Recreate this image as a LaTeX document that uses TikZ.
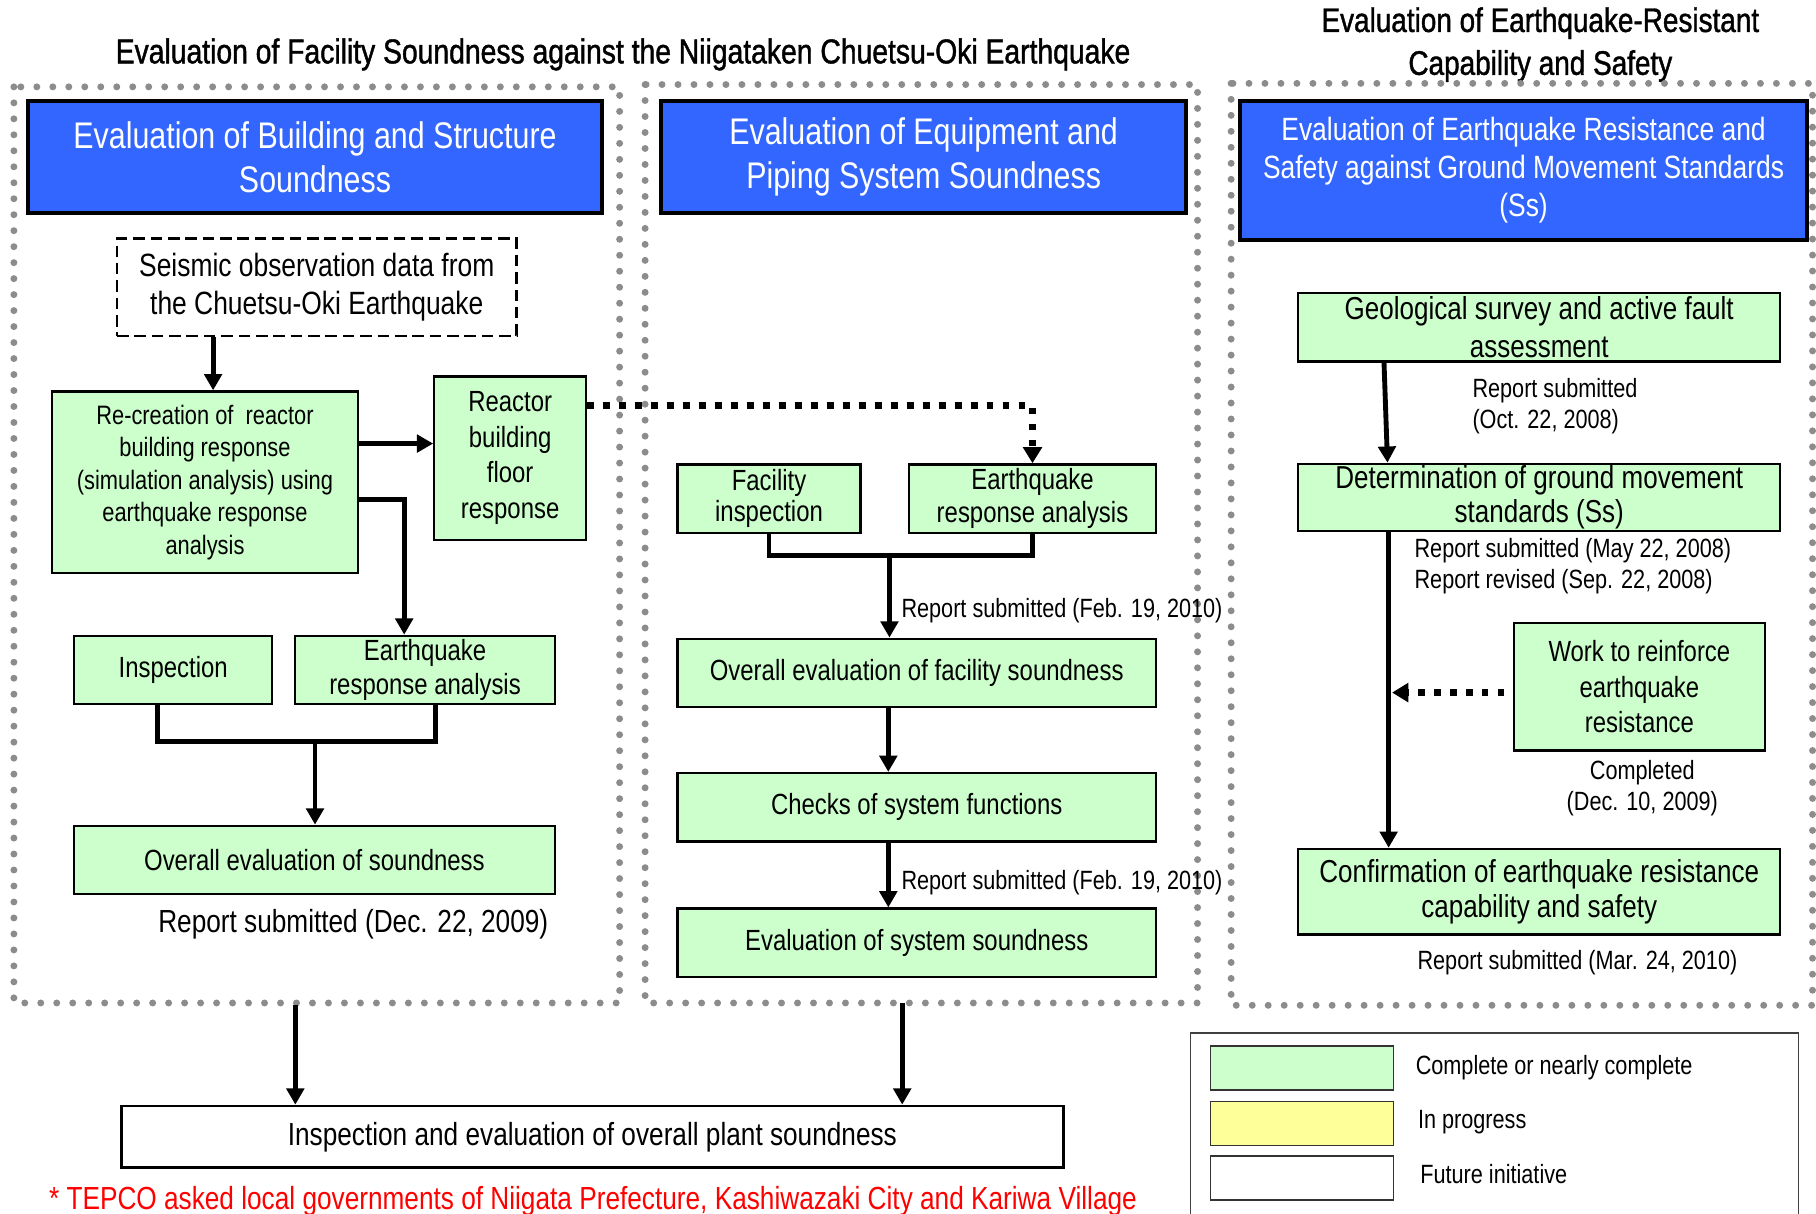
\documentclass[tikz,border=0pt]{standalone}
\usepackage{fontspec}
\setmainfont[FakeStretch=0.82]{Liberation Sans}
\newfontfamily\titlefont[FakeStretch=0.82,FakeBold=1.2]{Liberation Sans}
\usetikzlibrary{arrows.meta}

\definecolor{dotgray}{HTML}{8C8C8C}
\definecolor{headblue}{HTML}{3366FF}
\definecolor{boxgreen}{HTML}{CCFFCC}
\definecolor{legyellow}{HTML}{FFFF99}

\begin{document}
\begin{tikzpicture}[x=0.5pt,y=-0.5pt,
  panel/.style={draw=dotgray,line width=3pt,line cap=round,dash pattern=on 0pt off 6.9pt},
  header/.style={draw=black,line width=1.75pt,fill=headblue,text=white,align=center,inner sep=0pt,font={\fontsize{16}{19}\selectfont}},
  greenbox/.style={draw=black,line width=1pt,fill=boxgreen,align=center,inner sep=0pt,font={\fontsize{12.6}{14}\selectfont}},
  note/.style={align=left,inner sep=0pt,font={\fontsize{11.4}{13.5}\selectfont}},
  swatch/.style={draw=black!80,line width=0.6pt,minimum width=79pt,minimum height=19pt,inner sep=0pt},
  conn/.style={line width=2.1pt,-{Triangle[length=7pt,width=7.5pt]}},
  joinline/.style={line width=2.1pt},
  dotconn/.style={line width=2.9pt,dash pattern=on 2.9pt off 4pt,-{Triangle[length=7pt,width=8pt]}}]
\useasboundingbox (0,0) rectangle (1568,1048);
% Titles
\node[font={\titlefont\fontsize{14.9}{18.5}\selectfont}] (title1) at (538,47) {Evaluation of Facility Soundness against the Niigataken Chuetsu-Oki Earthquake};
\node[align=center,font={\titlefont\fontsize{14.7}{18.5}\selectfont}] (title2) at (1330,38.5) {Evaluation of Earthquake-Resistant\\Capability and Safety};
% Dotted panels
\draw[panel] (12,75) rectangle (535,866);
\draw[panel] (557,73) rectangle (1034,866);
\draw[panel] (1063,72) rectangle (1565,868);
% Headers
\node[header,minimum width=248pt,minimum height=48.5pt] (headbuild) at (272,135.5) {Evaluation of Building and Structure\\Soundness};
\node[header,minimum width=226.5pt,minimum height=48.5pt] (headequip) at (797.5,135.5) {Evaluation of Equipment and\\Piping System Soundness};
\node[header,minimum width=244.5pt,minimum height=60pt,font={\fontsize{13.9}{16.5}\selectfont}] (headquake) at (1315.5,147) {Evaluation of Earthquake Resistance and\\Safety against Ground Movement Standards\\(Ss)};
% Building and structure column
\node[draw,line width=1pt,dash pattern=on 5pt off 2.5pt,align=center,inner sep=0pt,minimum width=172.5pt,minimum height=42pt,font={\fontsize{13.9}{16.5}\selectfont}] (seismic) at (273.5,248) {Seismic observation data from\\the Chuetsu-Oki Earthquake};
\node[greenbox,minimum width=132pt,minimum height=78.5pt,font={\fontsize{11.5}{14}\selectfont}] (recreate) at (177,416.5) {Re-creation of\ \ reactor\\building response\\(simulation analysis) using\\earthquake response\\analysis};
\node[greenbox,minimum width=65.5pt,minimum height=70.5pt,font={\fontsize{12.6}{15.3}\selectfont}] (floorresp) at (440.5,395.5) {Reactor\\building\\floor\\response};
\node[greenbox,minimum width=85.5pt,minimum height=29.5pt] (inspect) at (149.5,578.5) {Inspection};
\node[greenbox,minimum width=112pt,minimum height=29.5pt,font={\fontsize{12.6}{15}\selectfont}] (bldanalysis) at (367,578.5) {Earthquake\\response analysis};
\node[greenbox,minimum width=207.5pt,minimum height=29.5pt] (bldoverall) at (271.5,742.5) {Overall evaluation of soundness};
\node[font={\fontsize{13.8}{16}\selectfont}] (bldreport) at (305,798) {Report submitted (Dec. 22, 2009)};
\coordinate (recin) at ([xshift=3.5pt]recreate.north);
\coordinate (recout) at ([yshift=16.75pt]recreate.east);
\coordinate (recout2) at ([yshift=-7.25pt]recreate.east);
\coordinate (bldin) at ([xshift=-9pt]bldanalysis.north);
\coordinate (bldjoin) at (272,640);
\draw[conn] (recin |- seismic.south) -- (recin);
\draw[conn] (recout) -- (recout -| floorresp.west);
\draw[conn] (recout2) -| (bldin);
\draw[joinline] ([xshift=-6.75pt]inspect.south) |- (bldjoin) -| ([xshift=4.5pt]bldanalysis.south);
\draw[conn] (bldjoin) -- (bldjoin |- bldoverall.north);
% Equipment and piping column
\node[greenbox,minimum width=79pt,minimum height=29.5pt,font={\fontsize{12.6}{13.5}\selectfont}] (facinsp) at (664,430.5) {Facility\\inspection};
\node[greenbox,minimum width=106.5pt,minimum height=29.5pt,font={\fontsize{12.6}{14}\selectfont}] (eqpanalysis) at (891.5,430.5) {Earthquake\\response analysis};
\node[greenbox,minimum width=206.5pt,minimum height=29.5pt] (eqpoverall) at (791.5,581) {Overall evaluation of facility soundness};
\node[greenbox,minimum width=206.5pt,minimum height=29.5pt] (sysfunc) at (791.5,697) {Checks of system functions};
\node[greenbox,minimum width=206.5pt,minimum height=29.5pt] (syssound) at (791.5,814) {Evaluation of system soundness};
\coordinate (eqpjoin) at (768,480);
\draw[dotconn] ([yshift=22.75pt]floorresp.east) -| (eqpanalysis.north);
\draw[joinline] (facinsp.south) |- (eqpjoin) -| (eqpanalysis.south);
\draw[conn] (eqpjoin) -- (eqpjoin |- eqpoverall.north);
\node[note,anchor=west] (eqprep1) at (778,527) {Report submitted (Feb. 19, 2010)};
\draw[conn] ([xshift=-12.25pt]eqpoverall.south) -- ([xshift=-12.25pt]sysfunc.north);
\draw[conn] ([xshift=-12.25pt]sysfunc.south) -- ([xshift=-12.25pt]syssound.north);
\node[note,anchor=west] (eqprep2) at (778,762) {Report submitted (Feb. 19, 2010)};
% Earthquake resistance column
\node[greenbox,minimum width=208pt,minimum height=29.5pt,font={\fontsize{13.7}{16.5}\selectfont}] (geology) at (1329,282.5) {Geological survey and active fault\\assessment};
\node[greenbox,minimum width=208pt,minimum height=29pt,font={\fontsize{13.7}{14.5}\selectfont}] (groundstd) at (1329,429.5) {Determination of ground movement\\standards (Ss)};
\node[greenbox,minimum width=108.5pt,minimum height=55pt,font={\fontsize{12.6}{15.3}\selectfont}] (reinforce) at (1415.5,593) {Work to reinforce\\earthquake\\resistance};
\node[greenbox,minimum width=208pt,minimum height=37pt,font={\fontsize{13.7}{15}\selectfont}] (confirm) at (1329,770) {Confirmation of earthquake resistance\\capability and safety};
\coordinate (quakeline) at ([xshift=-65pt]groundstd.south);
\coordinate (reinout) at ([xshift=-3.5pt,yshift=-2.5pt]reinforce.west);
\draw[conn] ([xshift=-67pt]geology.south) -- ([xshift=-65.5pt]groundstd.north);
\draw[conn] (quakeline) -- ([xshift=-65pt]confirm.north);
\draw[dotconn,shorten >=1.5pt] (reinout) -- (reinout -| quakeline);
\node[note,anchor=west] (georep) at (1271,350.5) {Report submitted\\(Oct. 22, 2008)};
\node[note,anchor=west] (groundrep) at (1221,489) {Report submitted (May 22, 2008)\\Report revised (Sep. 22, 2008)};
\node[note,align=center] (reinrep) at (1418,680.5) {Completed\\(Dec. 10, 2009)};
\node[note,align=center] (confrep) at (1362,831) {Report submitted (Mar. 24, 2010)};
% Overall plant soundness
\node[draw,line width=1.2pt,minimum width=406.5pt,minimum height=26.5pt,inner sep=0pt,font={\fontsize{13.8}{16}\selectfont}] (plant) at (511.5,981.5) {Inspection and evaluation of overall plant soundness};
\coordinate (bldfoot) at (255,868);
\coordinate (eqpfoot) at (779,866);
\draw[conn] (bldfoot) -- (bldfoot |- plant.north);
\draw[conn] (eqpfoot) -- (eqpfoot |- plant.north);
\node[text=red,font={\fontsize{13.8}{16}\selectfont}] (footnote) at (512,1037) {* TEPCO asked local governments of Niigata Prefecture, Kashiwazaki City and Kariwa Village};
% Legend
\draw[draw=black!75,line width=0.6pt] (1028,892) rectangle (1553,1060);
\node[swatch,fill=boxgreen] (swgreen) at (1124,922) {};
\node[swatch,fill=legyellow] (swyellow) at (1124,970) {};
\node[swatch,fill=white] (swwhite) at (1124,1017) {};
\node[note,anchor=west] (leggreen) at (1222,922) {Complete or nearly complete};
\node[note,anchor=west] (legyellow) at (1224,969) {In progress};
\node[note,anchor=west] (legwhite) at (1226,1014) {Future initiative};
\end{tikzpicture}
\end{document}
